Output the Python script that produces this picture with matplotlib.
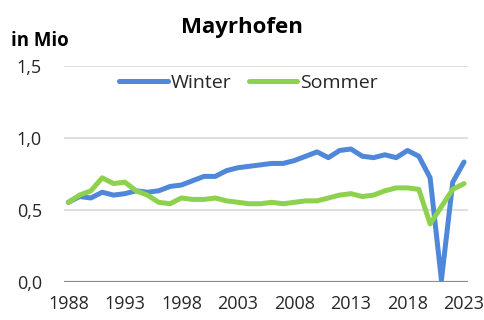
import matplotlib
matplotlib.use("Agg")
import matplotlib.pyplot as plt
from matplotlib.ticker import FuncFormatter

# Naechtigungen Mayrhofen, Winter- und Sommerhalbjahr (in Mio)
jahre = list(range(1988, 2024))
winter = [0.55, 0.59, 0.58, 0.62, 0.60, 0.61, 0.63, 0.62, 0.63, 0.66,
          0.67, 0.70, 0.73, 0.73, 0.77, 0.79, 0.80, 0.81, 0.82, 0.82,
          0.84, 0.87, 0.90, 0.86, 0.91, 0.92, 0.87, 0.86, 0.88, 0.86,
          0.91, 0.87, 0.72, 0.01, 0.69, 0.83]
sommer = [0.55, 0.60, 0.63, 0.72, 0.68, 0.69, 0.63, 0.60, 0.55, 0.54,
          0.58, 0.57, 0.57, 0.58, 0.56, 0.55, 0.54, 0.54, 0.55, 0.54,
          0.55, 0.56, 0.56, 0.58, 0.60, 0.61, 0.59, 0.60, 0.63, 0.65,
          0.65, 0.64, 0.40, 0.52, 0.64, 0.68]
xticks = [1988, 1993, 1998, 2003, 2008, 2013, 2018, 2023]
yticks = [0.0, 0.5, 1.0, 1.5]

plt.rcParams['font.family'] = ['Open Sans', 'DejaVu Sans']

fig = plt.figure(figsize=(4.84, 3.2), dpi=100)
ax = fig.add_axes([64 / 484, 0.1203, 404 / 484, 0.675])

ax.plot(jahre, winter, color='#4F88D8', lw=3.6, label='Winter',
        solid_joinstyle='round', solid_capstyle='round')
ax.plot(jahre, sommer, color='#8ED14E', lw=3.6, label='Sommer',
        solid_joinstyle='round', solid_capstyle='round')

ax.set_xlim(1987.62, 2023.35)
ax.set_ylim(0, 1.5)
ax.set_xticks(xticks)
ax.set_yticks(yticks)
ax.yaxis.set_major_formatter(FuncFormatter(lambda v, p: f"{v:.1f}".replace('.', ',')))

# Gitterlinien
for y in yticks[1:]:
    ax.axhline(y, color='#D9D9D9', lw=1.2, zorder=0)
ax.axhline(0, color='#8C8C8C', lw=1.6, zorder=0)

for s in ax.spines.values():
    s.set_visible(False)
ax.tick_params(length=0, labelsize=13, colors='#262626')
ax.tick_params(axis='x', pad=10)
ax.tick_params(axis='y', pad=16)

fig.text(0.5, 0.915, 'Mayrhofen', ha='center', va='center',
         fontsize=16, fontweight='bold', color='black')
fig.text(0.022, 0.872, 'in Mio', ha='left', va='center',
         fontsize=13.4, fontweight='bold', color='black')

ax.legend(loc='center', bbox_to_anchor=(0.457, 0.92), ncol=2,
          frameon=False, fontsize=14, handlelength=2.5, handletextpad=0.15,
          columnspacing=0.9, labelcolor='#262626')

fig.savefig('out.png', dpi=100)
